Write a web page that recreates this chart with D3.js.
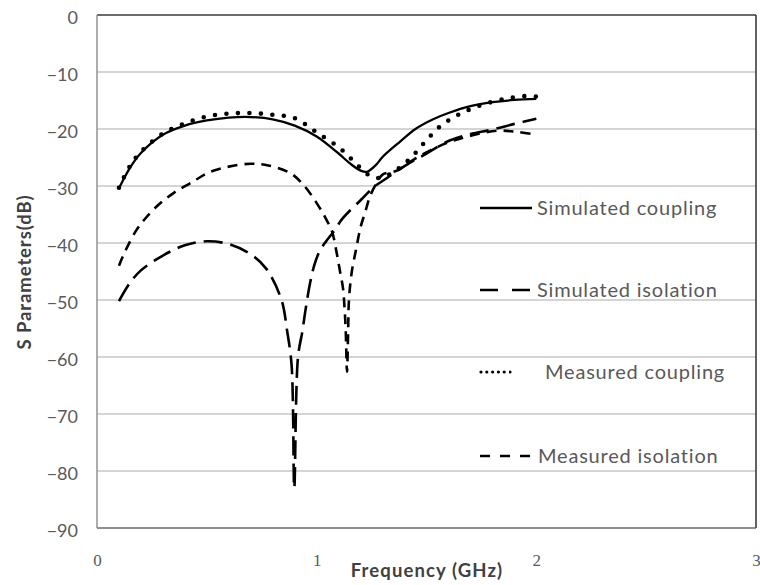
<!DOCTYPE html>
<html>
<head>
<meta charset="utf-8">
<script src="https://cdn.jsdelivr.net/npm/d3@7"></script>
<style>
  html, body { margin: 0; padding: 0; background: #ffffff; }
  svg { display: block; }
</style>
</head>
<body>
<svg id="chart" width="760" height="585"></svg>
<script>
// ---- Data ----
const yTicks = [0, -10, -20, -30, -40, -50, -60, -70, -80, -90];
const xTicks = [0, 1, 2, 3];

const simCouplingF = [0.1, 0.15, 0.2, 0.3, 0.4, 0.5, 0.6, 0.7, 0.8, 0.9, 1.0, 1.1, 1.15, 1.2, 1.23, 1.27, 1.3, 1.38, 1.45, 1.53, 1.6, 1.7, 1.8, 1.9, 2.0];
const simCouplingV = [-30.4, -26.8, -24.2, -21.0, -19.4, -18.5, -18.0, -17.9, -18.3, -19.4, -21.3, -24.3, -26.0, -27.3, -27.5, -26.3, -24.9, -22.2, -20.0, -18.3, -17.2, -16.0, -15.3, -14.9, -14.7];

const simIsolationF = [0.1, 0.15, 0.2, 0.3, 0.4, 0.5, 0.6, 0.7, 0.77, 0.84, 0.865, 0.886, 0.898, 0.915, 0.935, 0.947, 0.97, 0.99, 1.015, 1.045, 1.075, 1.12, 1.2, 1.26, 1.32, 1.4, 1.5, 1.6, 1.7, 1.8, 1.9, 2.0];
const simIsolationV = [-50.2, -47.0, -44.8, -42.2, -40.4, -39.7, -40.2, -42.0, -44.5, -50.0, -55.3, -61.5, -83.0, -60.0, -55.5, -52.3, -47.0, -43.8, -41.3, -39.6, -38.1, -35.6, -32.5, -30.2, -28.6, -26.5, -24.3, -22.1, -20.9, -20.1, -19.1, -18.2];

const measCouplingF = [0.1, 0.15, 0.2, 0.3, 0.4, 0.5, 0.6, 0.7, 0.8, 0.9, 1.0, 1.1, 1.17, 1.23, 1.28, 1.33, 1.42, 1.49, 1.56, 1.65, 1.75, 1.86, 1.96, 2.0];
const measCouplingV = [-30.3, -26.5, -24.0, -20.8, -19.0, -17.8, -17.3, -17.2, -17.5, -18.1, -20.6, -23.2, -25.7, -27.9, -28.6, -28.0, -25.4, -22.4, -19.6, -17.4, -15.8, -14.7, -14.2, -14.3];

const measIsolationF = [0.1, 0.13, 0.18, 0.22, 0.28, 0.35, 0.43, 0.51, 0.6, 0.7, 0.78, 0.878, 0.94, 1.0, 1.04, 1.07, 1.09, 1.105, 1.12, 1.127, 1.132, 1.138, 1.143, 1.147, 1.16, 1.18, 1.2, 1.22, 1.245, 1.28, 1.3, 1.365, 1.44, 1.52, 1.61, 1.71, 1.82, 1.91, 2.0];
const measIsolationV = [-44.0, -41.3, -37.7, -35.7, -33.3, -31.2, -29.4, -27.6, -26.6, -26.1, -26.4, -27.7, -29.8, -33.0, -35.6, -38.0, -41.5, -44.7, -48.0, -51.5, -55.0, -62.6, -56.0, -50.0, -45.0, -41.0, -37.2, -34.7, -31.6, -29.0, -28.0, -27.3, -25.4, -23.7, -22.2, -21.1, -20.3, -20.5, -21.0];

const seriesNames = ["Simulated coupling", "Simulated isolation", "Measured coupling", "Measured isolation"];
const xTitle = "Frequency (GHz)";
const yTitle = "S Parameters(dB)";

// ---- Layout ----
const svg = d3.select("#chart");
const pLeft = 97, pRight = 756, pTop = 15, pBottom = 528;
const x = d3.scaleLinear().domain([0, 3]).range([pLeft, pRight]);
const y = d3.scaleLinear().domain([-90, 0]).range([pBottom, pTop]);

const grey = "#595959";
const sans = "Lato, 'Open Sans', sans-serif";

// gridlines
svg.append("g").selectAll("line").data(yTicks.filter(d => d !== 0 && d !== -90)).join("line")
  .attr("x1", pLeft).attr("x2", pRight)
  .attr("y1", d => y(d)).attr("y2", d => y(d))
  .attr("stroke", "#c6c6c6").attr("stroke-width", 1.3);

// frame
svg.append("line").attr("x1", pLeft).attr("x2", pRight).attr("y1", y(0)).attr("y2", y(0))
  .attr("stroke", "#3a3a3a").attr("stroke-width", 1.6);
svg.append("line").attr("x1", pRight).attr("x2", pRight).attr("y1", pTop).attr("y2", pBottom)
  .attr("stroke", "#3a3a3a").attr("stroke-width", 1.6);
svg.append("line").attr("x1", pLeft).attr("x2", pRight).attr("y1", pBottom).attr("y2", pBottom)
  .attr("stroke", "#6a6a6a").attr("stroke-width", 1.6);
svg.append("line").attr("x1", pLeft).attr("x2", pLeft).attr("y1", pTop).attr("y2", pBottom)
  .attr("stroke", "#8a8a8a").attr("stroke-width", 1.4);

// y tick labels
const yAxis = d3.axisLeft(y).tickValues(yTicks).tickSize(0).tickPadding(0).tickFormat(d3.format("d"));
const ya = svg.append("g").attr("transform", `translate(${pLeft - 19},0)`).call(yAxis);
ya.select(".domain").remove();
ya.selectAll("text").attr("fill", grey).attr("font-family", sans).attr("font-size", 18)
  .attr("dy", "0.45em");

// x tick labels
const xAxis = d3.axisBottom(x).tickValues(xTicks).tickSize(0).tickPadding(0).tickFormat(d3.format("d"));
const xa = svg.append("g").attr("transform", `translate(0,${pBottom + 28})`).call(xAxis);
xa.select(".domain").remove();
xa.selectAll("text").attr("fill", grey).attr("font-family", "'Liberation Serif', serif").attr("font-size", 17)
  .attr("dy", "0.6em");

// axis titles
svg.append("text").text(xTitle).attr("x", 427).attr("y", 577)
  .attr("text-anchor", "middle").attr("font-family", sans).attr("font-weight", "bold")
  .attr("font-size", 18.5).attr("letter-spacing", 1.1).attr("fill", "#404040");
svg.append("text").text(yTitle)
  .attr("transform", "translate(31,272) rotate(-90)")
  .attr("text-anchor", "middle").attr("font-family", sans).attr("font-weight", "bold")
  .attr("font-size", 18.5).attr("letter-spacing", 0.9).attr("fill", "#404040");

// lines
const line = d3.line().x(d => x(d[0])).y(d => y(d[1])).curve(d3.curveCatmullRom.alpha(0.5));
const zip = (a, b) => a.map((v, i) => [v, b[i]]);

const styles = [
  { dash: null, width: 2.3, cap: "butt", legendDash: null, legendX2: 532, textX: 537 },
  { dash: "19,8", width: 2.6, cap: "butt", legendDash: "18,14", legendX2: 532, textX: 537 },
  { dash: "0,11.5", width: 4.6, cap: "round", legendDash: "0,5.8", legendX2: 510, textX: 545 },
  { dash: "10,7", width: 2.6, cap: "butt", legendDash: "10,10", legendX2: 532, textX: 538 }
];
const seriesData = [
  zip(simCouplingF, simCouplingV),
  zip(simIsolationF, simIsolationV),
  zip(measCouplingF, measCouplingV),
  zip(measIsolationF, measIsolationV)
];

const drawOrder = [3, 1, 0, 2];
drawOrder.forEach(i => {
  const s = styles[i];
  svg.append("path").datum(seriesData[i])
    .attr("d", line)
    .attr("fill", "none").attr("stroke", "#000")
    .attr("stroke-width", s.width)
    .attr("stroke-linecap", s.cap)
    .attr("stroke-linejoin", "round")
    .attr("stroke-dasharray", s.dash);
});

// legend
const legendY = [208, 290, 372, 456];
const lg = svg.append("g").selectAll("g").data(seriesNames).join("g");
lg.append("line")
  .attr("x1", (d, i) => styles[i].cap === "round" ? 481 : 480)
  .attr("x2", (d, i) => styles[i].legendX2)
  .attr("y1", (d, i) => legendY[i]).attr("y2", (d, i) => legendY[i])
  .attr("stroke", "#000")
  .attr("stroke-width", (d, i) => styles[i].cap === "round" ? 3.2 : 2.6)
  .attr("stroke-linecap", (d, i) => styles[i].cap)
  .attr("stroke-dasharray", (d, i) => styles[i].legendDash);
lg.append("text").text(d => d)
  .attr("x", (d, i) => styles[i].textX)
  .attr("y", (d, i) => legendY[i])
  .attr("dy", "0.33em")
  .attr("letter-spacing", 0.8)
  .attr("font-family", sans).attr("font-size", 20).attr("fill", grey);
</script>
</body>
</html>
